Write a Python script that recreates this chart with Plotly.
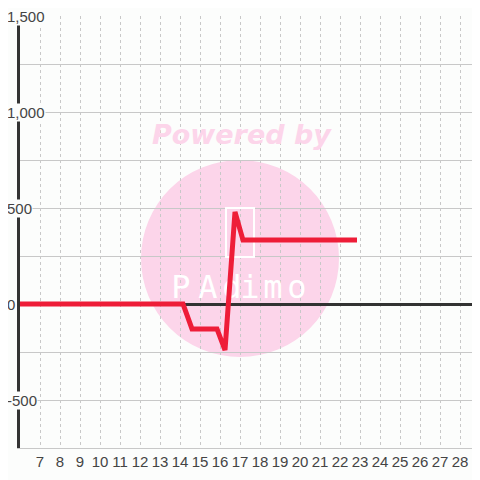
"""Single red series on a day axis, with the pink 'Powered by' watermark."""

import plotly.graph_objects as go

# data
day = [6, 14.15, 14.6, 15.85, 16.25, 16.75, 17.15, 22.85]
value = [0, 0, -130, -130, -240, 480, 333, 333]

x_ticks = list(range(7, 29))
y_labels = [1500, 1000, 500, 0, -500]

# watermark logo letters
logo_letters = ["P", "A", "d", "i", "m", "o"]
logo_x = [14.05, 15.4, 16.6, 17.5, 18.65, 19.85]

BG = "#fcfdfc"
GRID = "#c8c8c8"
AXIS = "#333333"
RED = "#ee1d38"
PINK = "#fcd5ea"

fig = go.Figure()

# logo text sits under the series line
fig.add_trace(go.Scatter(
    x=logo_x, y=[75] * len(logo_x),
    mode="text",
    text=logo_letters,
    textfont=dict(family="DejaVu Sans Mono", size=32, color="white"),
    hoverinfo="skip",
    showlegend=False,
))

fig.add_trace(go.Scatter(
    x=day, y=value,
    mode="lines",
    line=dict(color=RED, width=5),
    showlegend=False,
))

# pink disc and phone outline of the watermark
fig.add_shape(type="circle", xref="x", yref="y",
              x0=12.05, x1=21.95, y0=-276, y1=750,
              fillcolor=PINK, line_width=0, layer="below")
fig.add_shape(type="rect", xref="x", yref="y",
              x0=16.3, x1=17.7, y0=245, y1=500,
              line=dict(color="white", width=2), fillcolor="rgba(0,0,0,0)",
              layer="between")

fig.add_annotation(x=0.482, xref="paper", y=885, yref="y",
                   text="<b><i>Powered by</i></b>", showarrow=False,
                   font=dict(family="DejaVu Sans", size=27, color=PINK))

for v in y_labels:
    fig.add_annotation(x=0, xref="paper", y=v, yref="y",
                       text=f"{v:,}", showarrow=False,
                       xanchor="left", xshift=-14,
                       bgcolor=BG, borderpad=0,
                       font=dict(family="Liberation Sans", size=15, color="#444444"))

# the page puts the figure 8px in from the top-left corner
fig.update_layout(
    width=472, height=472,
    margin=dict(l=12, r=0, t=8, b=32),
    paper_bgcolor=BG, plot_bgcolor=BG,
    font=dict(family="Liberation Sans", size=15, color="#444444"),
)
fig.update_xaxes(
    range=[6, 29], tickvals=x_ticks, ticks="",
    showgrid=True, gridcolor=GRID, gridwidth=1, griddash="3px,3px",
    showline=True, linecolor=GRID, linewidth=1,
    zeroline=False, fixedrange=True,
)
fig.update_yaxes(
    range=[-750, 1500], dtick=250, showticklabels=False, ticks="",
    showgrid=True, gridcolor=GRID, gridwidth=1,
    showline=True, linecolor=AXIS, linewidth=3,
    zeroline=True, zerolinecolor=AXIS, zerolinewidth=3, fixedrange=True,
)

fig.write_html("out.html")
